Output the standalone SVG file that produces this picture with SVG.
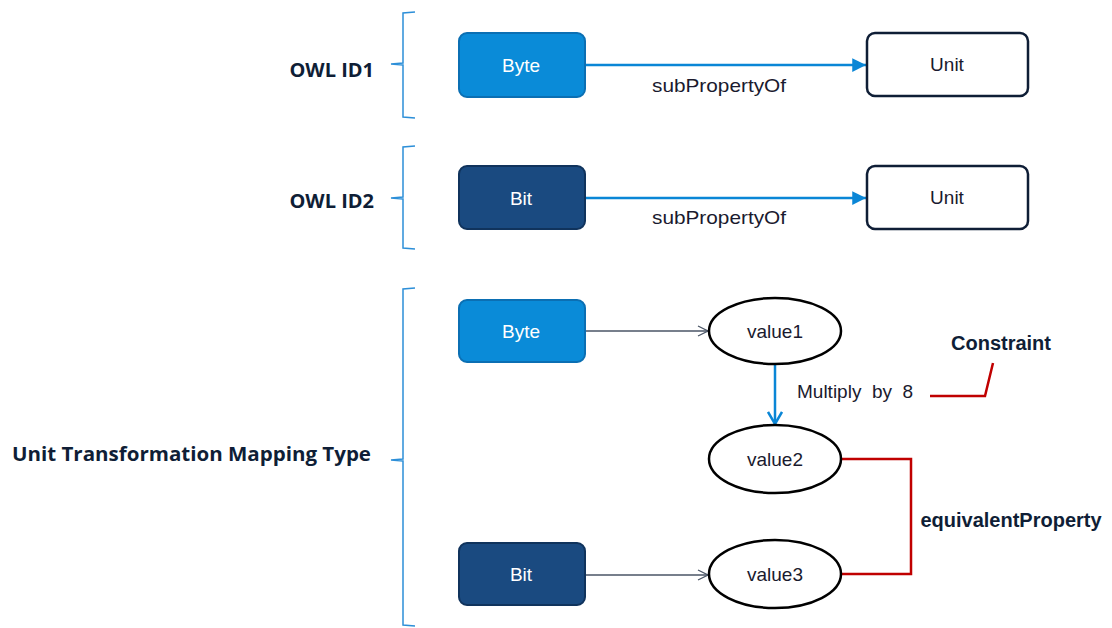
<svg xmlns="http://www.w3.org/2000/svg" width="1112" height="628" viewBox="0 0 1112 628">
<defs>
<marker id="tri" viewBox="0 0 10 10" refX="10" refY="5" markerWidth="5.5" markerHeight="5.5" orient="auto" markerUnits="strokeWidth">
<path d="M0,0 L10,5 L0,10 z" fill="#0a86d6"/>
</marker>
<marker id="open" viewBox="0 0 12 12" refX="11" refY="6" markerWidth="12" markerHeight="12" orient="auto" markerUnits="userSpaceOnUse">
<path d="M1,1 L11,6 L1,11" fill="none" stroke="#4a5566" stroke-width="1.3"/>
</marker>
<marker id="vee" viewBox="0 0 16 16" refX="14" refY="8" markerWidth="16" markerHeight="16" orient="auto" markerUnits="userSpaceOnUse">
<path d="M2,1 L14,8 L2,15" fill="none" stroke="#0a86d6" stroke-width="2.5"/>
</marker>
</defs>
<style>
.brace{fill:none;stroke:#2d8fd8;stroke-width:1.5}
.lbl{font-family:"Open Sans","DejaVu Sans",sans-serif;font-weight:bold;font-size:20px;fill:#0f1e36}
.t{font-family:"Liberation Sans","Noto Sans",sans-serif;font-size:19px;fill:#1a1a2e}
.tw{font-family:"Liberation Sans","Noto Sans",sans-serif;font-size:19px;fill:#ffffff}
.tb{font-family:"Liberation Sans","Noto Sans",sans-serif;font-size:20px;font-weight:bold;fill:#0f1e36}
.byte{fill:#0a8bd8;stroke:#0b6fb3;stroke-width:2}
.bit{fill:#1a4a80;stroke:#10335c;stroke-width:2}
.unit{fill:#ffffff;stroke:#0f1e36;stroke-width:2.5}
.ell{fill:#ffffff;stroke:#000000;stroke-width:2.5}
.blue{fill:none;stroke:#0a86d6;stroke-width:2.5}
.thin{fill:none;stroke:#4a5566;stroke-width:1.3}
.red{fill:none;stroke:#c00000;stroke-width:2.5}
</style>
<rect width="1112" height="628" fill="#ffffff"/>

<g id="braces">
<path class="brace" d="M415,12 L403,13 L403,63 L391,64 L403,65 L403,117 L415,118"/>
<path class="brace" d="M415,146 L403,147 L403,197 L391,198 L403,199 L403,248 L415,249"/>
<path class="brace" d="M415,288 L403,289 L403,459 L391,460 L403,461 L403,625 L415,626"/>
</g>
<g id="labels">
<text class="lbl" x="374" y="77" text-anchor="end">OWL ID1</text>
<text class="lbl" x="374" y="208" text-anchor="end">OWL ID2</text>
<text class="lbl" x="12" y="461" textLength="359" lengthAdjust="spacingAndGlyphs">Unit Transformation Mapping Type</text>
</g>

<g id="connectors">
<line class="blue" x1="585" y1="65" x2="866" y2="65" marker-end="url(#tri)"/>
<line class="blue" x1="585" y1="198" x2="866" y2="198" marker-end="url(#tri)"/>
<line class="thin" x1="585" y1="331" x2="708" y2="331" marker-end="url(#open)"/>
<line class="thin" x1="585" y1="575" x2="708" y2="575" marker-end="url(#open)"/>
<line class="blue" x1="775" y1="364" x2="775" y2="424" marker-end="url(#vee)"/>
<polyline class="red" points="930,396 985,396 993,363"/>
<polyline class="red" points="841,459 911,459 911,574 841,574"/>
<text class="t" x="719" y="92" text-anchor="middle" textLength="134" lengthAdjust="spacingAndGlyphs">subPropertyOf</text>
<text class="t" x="719" y="224" text-anchor="middle" textLength="134" lengthAdjust="spacingAndGlyphs">subPropertyOf</text>
<text class="t" x="797" y="398" style="white-space:pre" xml:space="preserve">Multiply  by  8</text>
<text class="tb" x="1001" y="350" text-anchor="middle">Constraint</text>
<text class="tb" x="1011" y="527" text-anchor="middle">equivalentProperty</text>
</g>

<g id="byte1"><rect class="byte" x="459" y="33" width="126" height="64" rx="8"/><text class="tw" x="521" y="72" text-anchor="middle">Byte</text></g>
<g id="unit1"><rect class="unit" x="867" y="33" width="161" height="63" rx="8"/><text class="t" x="947" y="71" text-anchor="middle">Unit</text></g>
<g id="bit1"><rect class="bit" x="459" y="166" width="126" height="63" rx="8"/><text class="tw" x="521" y="205" text-anchor="middle">Bit</text></g>
<g id="unit2"><rect class="unit" x="867" y="166" width="161" height="63" rx="8"/><text class="t" x="947" y="204" text-anchor="middle">Unit</text></g>
<g id="byte2"><rect class="byte" x="459" y="300" width="126" height="62" rx="8"/><text class="tw" x="521" y="338" text-anchor="middle">Byte</text></g>
<g id="bit2"><rect class="bit" x="459" y="543" width="126" height="62" rx="8"/><text class="tw" x="521" y="581" text-anchor="middle">Bit</text></g>
<g id="value1"><ellipse class="ell" cx="775" cy="331" rx="66" ry="33"/><text class="t" x="775" y="338" text-anchor="middle">value1</text></g>
<g id="value2"><ellipse class="ell" cx="775" cy="459" rx="66" ry="34"/><text class="t" x="775" y="466" text-anchor="middle">value2</text></g>
<g id="value3"><ellipse class="ell" cx="775" cy="574" rx="66" ry="34"/><text class="t" x="775" y="581" text-anchor="middle">value3</text></g>
</svg>
